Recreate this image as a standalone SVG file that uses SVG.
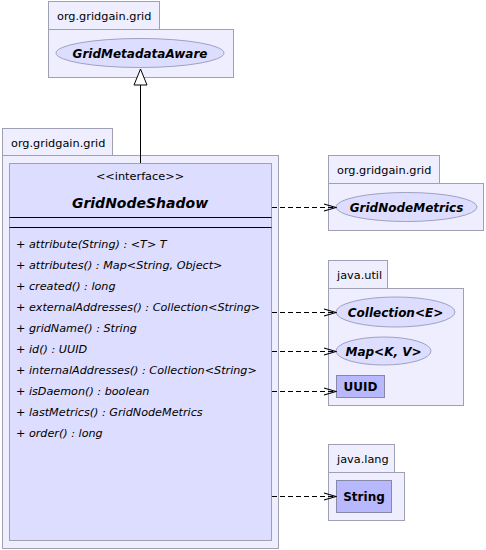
<svg xmlns="http://www.w3.org/2000/svg" width="486" height="550" viewBox="0 0 486 550">
<defs>
<style>
.pkg{fill:#EEEEFF;stroke:#A0A0B4;stroke-width:1}
.cls{fill:#DDDDFF;stroke:#A0A0B4;stroke-width:1}
.ell{fill:#DDDDFF;stroke:#A0A0C0;stroke-width:1}
.box{fill:#B8B8FF;stroke:#8888AA;stroke-width:1}
.pl{font-family:"DejaVu Sans",sans-serif;font-size:11.3px;fill:#000}
.nm{font-family:"DejaVu Sans",sans-serif;font-size:12px;font-weight:bold;font-style:italic;fill:#000}
.bx{font-family:"DejaVu Sans",sans-serif;font-size:12px;font-weight:bold;fill:#000}
.mt{font-family:"DejaVu Sans",sans-serif;font-size:11.2px;font-style:italic;fill:#000}
.dep{stroke:#000;stroke-width:1;stroke-dasharray:5,3;fill:none}
</style>
<marker id="vee" markerWidth="14" markerHeight="10" refX="13" refY="4.5" orient="auto" markerUnits="userSpaceOnUse">
<path d="M1,1 L13,4.5 L1,8" fill="none" stroke="#000" stroke-width="1.2"/>
</marker>
</defs>

<g id="pkg-top">
<rect class="pkg" x="48.5" y="1.5" width="111" height="28"/>
<rect class="pkg" x="48.5" y="29.5" width="185" height="48"/>
<text class="pl" x="57" y="19.5">org.gridgain.grid</text>
</g>
<g id="GridMetadataAware">
<ellipse class="ell" cx="140" cy="53" rx="84" ry="14.5"/>
<text class="nm" x="140" y="57.5" text-anchor="middle">GridMetadataAware</text>
</g>

<g id="pkg-main">
<rect class="pkg" x="2.5" y="128.5" width="110" height="27"/>
<rect class="pkg" x="2.5" y="155.5" width="276" height="393"/>
<text class="pl" x="11" y="147">org.gridgain.grid</text>
</g>
<g id="GridNodeShadow">
<rect class="cls" x="9.5" y="163.5" width="262" height="377"/>
<text class="pl" x="140" y="180" text-anchor="middle">&lt;&lt;interface&gt;&gt;</text>
<text class="nm" x="140" y="208" text-anchor="middle" style="font-size:14px">GridNodeShadow</text>
<line x1="9.5" y1="217.5" x2="271.5" y2="217.5" stroke="#000"/>
<line x1="9.5" y1="227.5" x2="271.5" y2="227.5" stroke="#000"/>
<text class="mt" x="16" y="247.5">+ attribute(String) : &lt;T&gt; T</text>
<text class="mt" x="16" y="268.6">+ attributes() : Map&lt;String, Object&gt;</text>
<text class="mt" x="16" y="289.7">+ created() : long</text>
<text class="mt" x="16" y="310.8">+ externalAddresses() : Collection&lt;String&gt;</text>
<text class="mt" x="16" y="331.9">+ gridName() : String</text>
<text class="mt" x="16" y="353">+ id() : UUID</text>
<text class="mt" x="16" y="374.1">+ internalAddresses() : Collection&lt;String&gt;</text>
<text class="mt" x="16" y="395.2">+ isDaemon() : boolean</text>
<text class="mt" x="16" y="416.3">+ lastMetrics() : GridNodeMetrics</text>
<text class="mt" x="16" y="437.4">+ order() : long</text>
</g>

<g id="pkg-metrics">
<rect class="pkg" x="328.5" y="155.5" width="111" height="28"/>
<rect class="pkg" x="328.5" y="183.5" width="155" height="47"/>
<text class="pl" x="337" y="174">org.gridgain.grid</text>
</g>
<g id="GridNodeMetrics">
<ellipse class="ell" cx="406.5" cy="207" rx="70.5" ry="14.5"/>
<text class="nm" x="406.5" y="211.5" text-anchor="middle">GridNodeMetrics</text>
</g>

<g id="pkg-util">
<rect class="pkg" x="328.5" y="260.5" width="59" height="28"/>
<rect class="pkg" x="328.5" y="288.5" width="135" height="117"/>
<text class="pl" x="337" y="279">java.util</text>
</g>
<g id="Collection">
<ellipse class="ell" cx="395.5" cy="312" rx="59.5" ry="15"/>
<text class="nm" x="395.5" y="316.5" text-anchor="middle">Collection&lt;E&gt;</text>
</g>
<g id="Map">
<ellipse class="ell" cx="383.5" cy="351" rx="47.5" ry="14"/>
<text class="nm" x="383.5" y="355.5" text-anchor="middle">Map&lt;K, V&gt;</text>
</g>
<g id="UUID">
<rect class="box" x="336.5" y="375.5" width="48" height="22"/>
<text class="bx" x="360.5" y="391" text-anchor="middle">UUID</text>
</g>

<g id="pkg-lang">
<rect class="pkg" x="328.5" y="444.5" width="66" height="28"/>
<rect class="pkg" x="328.5" y="472.5" width="76" height="48"/>
<text class="pl" x="337" y="463">java.lang</text>
</g>
<g id="String">
<rect class="box" x="336.5" y="480.5" width="55" height="32"/>
<text class="bx" x="364" y="501" text-anchor="middle">String</text>
</g>

<g id="connectors">
<line x1="140.5" y1="85" x2="140.5" y2="163" stroke="#000" stroke-width="1"/>
<polygon points="140.5,69 134,85 147,85" fill="#FFF" stroke="#000" stroke-width="1"/>
<line class="dep" x1="272" y1="207.5" x2="336" y2="207.5" marker-end="url(#vee)"/>
<line class="dep" x1="272" y1="312.5" x2="336" y2="312.5" marker-end="url(#vee)"/>
<line class="dep" x1="272" y1="351.5" x2="336" y2="351.5" marker-end="url(#vee)"/>
<line class="dep" x1="272" y1="391.5" x2="336" y2="391.5" marker-end="url(#vee)"/>
<line class="dep" x1="272" y1="496.5" x2="336" y2="496.5" marker-end="url(#vee)"/>
</g>
</svg>
